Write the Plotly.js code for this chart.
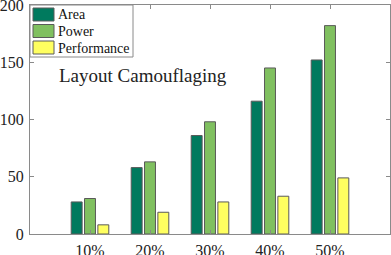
<!DOCTYPE html>
<html><head><meta charset="utf-8">
<script src="https://cdn.plot.ly/plotly-3.0.1.min.js"></script>
<style>html,body{margin:0;padding:0;background:#fff}</style>
</head><body>
<div id="chart" style="width:391px;height:255px"></div>
<script>
const categories = ['10%', '20%', '30%', '40%', '50%'];
const areaValues = [28, 58, 86, 116, 152];
const powerValues = [31, 63, 98, 145, 182];
const performanceValues = [8, 19, 28, 33, 49];
const seriesNames = ['Area', 'Power', 'Performance'];
const yTicks = [0, 50, 100, 150, 200];

const colors = ['#007a5e', '#80c060', '#ffff60'];
const serif = '"Liberation Serif", serif';
const edge = {color: '#5a5a5a', width: 1};
const seriesValues = [areaValues, powerValues, performanceValues];
const traces = seriesNames.map((n, i) => ({
  type: 'bar', name: n, x: categories, y: seriesValues[i],
  marker: {color: colors[i], line: edge}, showlegend: false
}));

// plot area geometry in pixels (for legend box placement)
const W = 391, H = 255, M = {l: 30, r: 1, t: 5, b: 21};
const pw = W - M.l - M.r, ph = H - M.t - M.b;
const px = x => (x - M.l) / pw;
const py = y => (H - M.b - y) / ph;

const shapes = [{type: 'rect', xref: 'paper', yref: 'paper', x0: px(30), x1: px(133), y0: py(57), y1: py(5),
  fillcolor: '#fff', line: {color: '#8a8a8a', width: 1}, layer: 'above'}];
const annotations = [{text: 'Layout Camouflaging', xref: 'paper', yref: 'paper', x: px(143), y: py(76),
  xanchor: 'center', yanchor: 'middle', showarrow: false,
  font: {family: serif, size: 19, color: '#222'}}];
const rowTop = [8, 24.5, 41];
seriesNames.forEach((n, i) => {
  shapes.push({type: 'rect', xref: 'paper', yref: 'paper', x0: px(33), x1: px(54),
    y0: py(rowTop[i] + 13), y1: py(rowTop[i]), fillcolor: colors[i], line: edge, layer: 'above'});
  annotations.push({text: n, xref: 'paper', yref: 'paper', x: px(56), y: py(rowTop[i] + 7),
    xanchor: 'left', yanchor: 'middle', showarrow: false,
    font: {family: serif, size: 14, color: '#111'}});
});

const axisCommon = {
  showline: true, linecolor: '#8a8a8a', linewidth: 1, mirror: 'ticks',
  ticks: 'inside', ticklen: 4, tickcolor: '#8a8a8a', showgrid: false, zeroline: false,
  tickfont: {family: serif, size: 16, color: '#222'}, ticklabeloverflow: 'allow'
};
const layout = {
  width: W, height: H, margin: M,
  paper_bgcolor: '#fff', plot_bgcolor: '#fff',
  barmode: 'group', bargap: 0.333, bargroupgap: 0.18,
  showlegend: false,
  xaxis: Object.assign({}, axisCommon, {type: 'category', range: [-1, 5], ticklabelstandoff: 2}),
  yaxis: Object.assign({}, axisCommon, {range: [0, 200], tickvals: yTicks, ticklabelstandoff: 2}),
  shapes: shapes, annotations: annotations
};
Plotly.newPlot('chart', traces, layout, {staticPlot: true});
</script>
</body></html>
